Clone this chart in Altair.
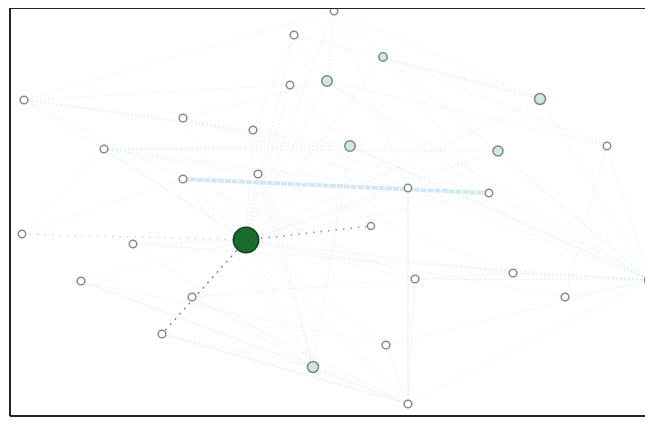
import altair as alt
import pandas as pd

# Node layout (in page-pixel coordinates)
node_x = [334, 294, 383, 327, 290, 540, 24, 183, 253, 104, 350, 498, 607, 183, 258,
          408, 489, 22, 133, 246, 371, 81, 415, 513, 650, 192, 565, 162, 313, 386, 408]
node_y = [11, 35, 57, 81, 85, 99, 100, 118, 130, 149, 146, 151, 146, 179, 174,
          188, 193, 234, 244, 240, 226, 281, 279, 273, 280, 297, 297, 334, 367, 345, 404]
node_kind = ["plain", "plain", "light", "light", "plain", "light", "plain", "plain", "plain",
             "plain", "light", "light", "plain", "plain", "plain", "plain", "plain", "plain",
             "plain", "hub", "plain", "plain", "plain", "plain", "light", "plain", "plain",
             "plain", "light", "plain", "plain"]
node_size = [55, 60, 70, 110, 55, 120, 60, 60, 60, 60, 110, 100, 55, 60, 60, 55, 55,
             55, 55, 640, 50, 60, 60, 60, 120, 60, 60, 60, 120, 60, 60]

# Edges: (source, target, style)
edge_src = [19, 19, 19, 19, 19, 19, 19, 19, 19, 19, 19, 19, 19, 19, 19, 19, 19, 19, 19, 19,
            19, 19, 19, 19,
            24, 24, 24, 24, 24, 24, 24, 24, 24, 24, 24, 24, 24,
            30, 30, 30, 30, 30, 30, 30,
            28, 28, 28, 28, 28, 28, 28, 28,
            6, 6, 6, 7, 9, 9, 0, 0, 1, 2, 2, 3, 22, 23, 15,
            6, 6, 9, 9, 7, 7, 1, 1, 4, 0, 0, 2, 3, 10, 12, 13, 14, 18, 21, 25, 27, 17, 17,
            13,
            19, 19, 17]
edge_tgt = [0, 1, 2, 3, 4, 5, 6, 7, 8, 9, 10, 11, 13, 14, 15, 16, 18, 21, 22, 23,
            26, 28, 29, 30,
            5, 11, 12, 15, 16, 22, 23, 26, 29, 30, 10, 3, 2,
            28, 29, 22, 25, 27, 21, 15,
            14, 8, 13, 25, 27, 18, 21, 10,
            4, 13, 0, 3, 10, 11, 11, 5, 5, 5, 12, 12, 23, 24, 30,
            8, 10, 14, 15, 15, 16, 3, 8, 10, 3, 15, 16, 16, 24, 26, 22, 23, 24, 29, 22, 30, 9, 13,
            16,
            20, 27, 19]
edge_style = (["faint"] * 24 + ["faint"] * 13 + ["faint"] * 7 + ["faint"] * 8 +
              ["faint"] * 15 + ["faint"] * 23 + ["thick"] + ["dotted", "dashed", "dotgray"])

nodes = pd.DataFrame({"x": node_x, "y": node_y, "kind": node_kind, "size": node_size})
edges = pd.DataFrame({
    "x": [node_x[s] for s in edge_src],
    "y": [node_y[s] for s in edge_src],
    "x2": [node_x[t] for t in edge_tgt],
    "y2": [node_y[t] for t in edge_tgt],
    "style": edge_style,
})

W, H = 635, 408
xs = alt.Scale(domain=[10, 10 + W], range=[0, W], nice=False, zero=False)
ys = alt.Scale(domain=[8 + H, 8], nice=False, zero=False)
noax = None

def edge_layer(style, color, width, dash, opacity):
    return alt.Chart(edges).transform_filter(alt.datum.style == style).mark_rule(
        color=color, strokeWidth=width, strokeDash=dash, opacity=opacity
    ).encode(
        x=alt.X("x:Q", scale=xs, axis=noax),
        y=alt.Y("y:Q", scale=ys, axis=noax),
        x2="x2:Q", y2="y2:Q",
    )

faint = edge_layer("faint", "#c9e4e4", 1, [2, 2], 0.45)
thick = edge_layer("thick", "#c6e2f0", 4, [6, 1], 0.8)
dotted = edge_layer("dotted", "#7a8a85", 1.5, [1.5, 6], 0.9)
dashed = edge_layer("dashed", "#6f7f7a", 1.5, [2, 5], 0.9)
dotgray = edge_layer("dotgray", "#b7c7c4", 1.2, [1.5, 6], 0.8)

pts = alt.Chart(nodes).mark_circle(opacity=1, strokeWidth=1.5).encode(
    x=alt.X("x:Q", scale=xs, axis=noax),
    y=alt.Y("y:Q", scale=ys, axis=noax),
    size=alt.Size("size:Q", scale=None, legend=None),
    color=alt.Color("kind:N", scale=alt.Scale(domain=["plain", "light", "hub"],
                                              range=["#ffffff", "#cfe9de", "#1b6a2e"]), legend=None),
    stroke=alt.Stroke("kind:N", scale=alt.Scale(domain=["plain", "light", "hub"],
                                                range=["#868c8a", "#7a8884", "#15401f"]), legend=None),
)

frame_df = pd.DataFrame({"side": ["left", "top", "bottom"]})
left = alt.Chart(frame_df).transform_filter(alt.datum.side == "left").mark_rule(
    color="#222222", strokeWidth=2).encode(x=alt.value(0), y=alt.value(0), y2=alt.value(H))
top = alt.Chart(frame_df).transform_filter(alt.datum.side == "top").mark_rule(
    color="#222222", strokeWidth=2).encode(x=alt.value(0), x2=alt.value(W + 10), y=alt.value(0))
bottom = alt.Chart(frame_df).transform_filter(alt.datum.side == "bottom").mark_rule(
    color="#222222", strokeWidth=2).encode(x=alt.value(0), x2=alt.value(W + 10), y=alt.value(H))

chart = alt.layer(faint, thick, dotgray, dotted, dashed, pts, left, top, bottom).properties(
    width=W, height=H,
    autosize=alt.AutoSizeParams(type="none"),
    padding={"left": 2, "top": 0, "right": 0, "bottom": 2},
).configure_view(stroke=None).configure(background="white")

chart.save("out.html", embed_options={"renderer": "svg", "actions": False})
